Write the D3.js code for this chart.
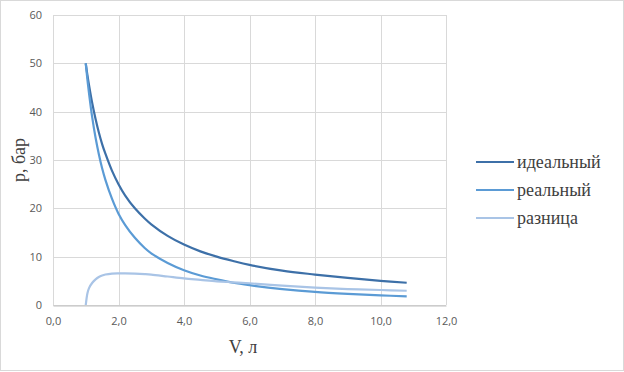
<!DOCTYPE html>
<html>
<head>
<meta charset="utf-8">
<script src="https://cdn.jsdelivr.net/npm/d3@7"></script>
<style>
  body { margin: 0; background: #fff; }
  .tick text { font-family: "Open Sans", "Noto Sans", sans-serif; font-size: 11px; fill: #595959; }
</style>
</head>
<body>
<div id="chart"></div>
<script>
// Volume, l
const volume = [1.0, 1.05, 1.1, 1.2, 1.3, 1.4, 1.5, 1.6, 1.8, 2.0, 2.2, 2.5, 2.8, 3.0, 3.5, 4.0, 4.5, 5.0, 5.5, 6.0, 7.0, 8.0, 9.0, 10.0, 10.8];
// pressure, bar
const ideal = [50, 47.6, 45.5, 41.7, 38.5, 35.7, 33.3, 31.3, 27.8, 25.0, 22.7, 20.0, 17.9, 16.7, 14.3, 12.5, 11.1, 10.0, 9.1, 8.3, 7.1, 6.3, 5.6, 5.0, 4.6];
const real = [50, 46.7, 43.8, 38.7, 34.6, 31.2, 28.3, 25.9, 22.0, 18.9, 16.6, 13.9, 11.8, 10.7, 8.7, 7.2, 6.1, 5.3, 4.6, 4.1, 3.3, 2.7, 2.3, 2.0, 1.8];
const diff = [0, 2.4, 3.5, 4.6, 5.3, 5.8, 6.1, 6.3, 6.5, 6.55, 6.55, 6.5, 6.4, 6.3, 5.9, 5.5, 5.2, 4.9, 4.7, 4.5, 4.0, 3.6, 3.3, 3.1, 2.95];

const seriesNames = ["идеальный", "реальный", "разница"];
const seriesColors = ["#3d70a8", "#5b9bd5", "#a9c4e6"];
const xTicks = [0, 2, 4, 6, 8, 10, 12];
const yTicks = [0, 10, 20, 30, 40, 50, 60];

const width = 624, height = 372;
const margin = { left: 53, right: 178, top: 15, bottom: 67 };

const svg = d3.select("#chart").append("svg")
    .attr("width", width)
    .attr("height", height);

// chart border
svg.append("rect")
    .attr("x", 0.5).attr("y", 0.5)
    .attr("width", width - 1).attr("height", height - 2)
    .attr("fill", "#fff")
    .attr("stroke", "#d9d9d9");

const x = d3.scaleLinear().domain([0, 12]).range([margin.left, width - margin.right]);
const y = d3.scaleLinear().domain([0, 60]).range([height - margin.bottom, margin.top]);

// grid lines
svg.append("g").selectAll("line")
    .data(xTicks)
    .enter().append("line")
    .attr("x1", d => Math.round(x(d)) + 0.5).attr("x2", d => Math.round(x(d)) + 0.5)
    .attr("y1", y(60)).attr("y2", y(0))
    .attr("stroke", "#d9d9d9");

svg.append("g").selectAll("line")
    .data(yTicks)
    .enter().append("line")
    .attr("x1", x(0)).attr("x2", x(12))
    .attr("y1", d => Math.round(y(d)) + 0.5).attr("y2", d => Math.round(y(d)) + 0.5)
    .attr("stroke", "#d9d9d9");

// axes
const fmt = d => d.toFixed(1).replace(".", ",");
svg.append("g")
    .attr("transform", "translate(0," + (Math.round(y(0)) + 0.5) + ")")
    .call(d3.axisBottom(x).tickValues(xTicks).tickFormat(fmt).tickSize(0).tickPadding(12))
    .call(g => g.select(".domain").attr("stroke", "#bfbfbf"));

svg.append("g")
    .attr("transform", "translate(" + x(0) + ",0)")
    .call(d3.axisLeft(y).tickValues(yTicks).tickSize(0).tickPadding(11))
    .call(g => g.select(".domain").remove());

// axis titles
svg.append("text")
    .attr("x", 243).attr("y", 353)
    .attr("text-anchor", "middle")
    .attr("font-family", "Liberation Serif, serif")
    .attr("font-size", 18)
    .attr("fill", "#404040")
    .text("V, л");

svg.append("text")
    .attr("transform", "translate(25,160) rotate(-90)")
    .attr("text-anchor", "middle")
    .attr("font-family", "Liberation Serif, serif")
    .attr("font-size", 18)
    .attr("fill", "#404040")
    .text("p, бар");

// curves
const allSeries = [ideal, real, diff];
const line = d3.line()
    .curve(d3.curveCatmullRom.alpha(0.5))
    .x((d, i) => x(volume[i]))
    .y(d => y(d));

svg.append("g").selectAll("path")
    .data(allSeries)
    .enter().append("path")
    .attr("d", d => line(d))
    .attr("fill", "none")
    .attr("stroke", (d, i) => seriesColors[i])
    .attr("stroke-width", 2.2);

// legend
const legend = svg.append("g").selectAll("g")
    .data(seriesNames)
    .enter().append("g")
    .attr("transform", (d, i) => "translate(476," + (162 + i * 28) + ")");

legend.append("line")
    .attr("x1", 0).attr("x2", 38)
    .attr("stroke", (d, i) => seriesColors[i])
    .attr("stroke-width", 2.2);

legend.append("text")
    .attr("x", 41).attr("y", 6)
    .attr("font-family", "Liberation Serif, serif")
    .attr("font-size", 18)
    .attr("fill", "#404040")
    .text(d => d);
</script>
</body>
</html>
